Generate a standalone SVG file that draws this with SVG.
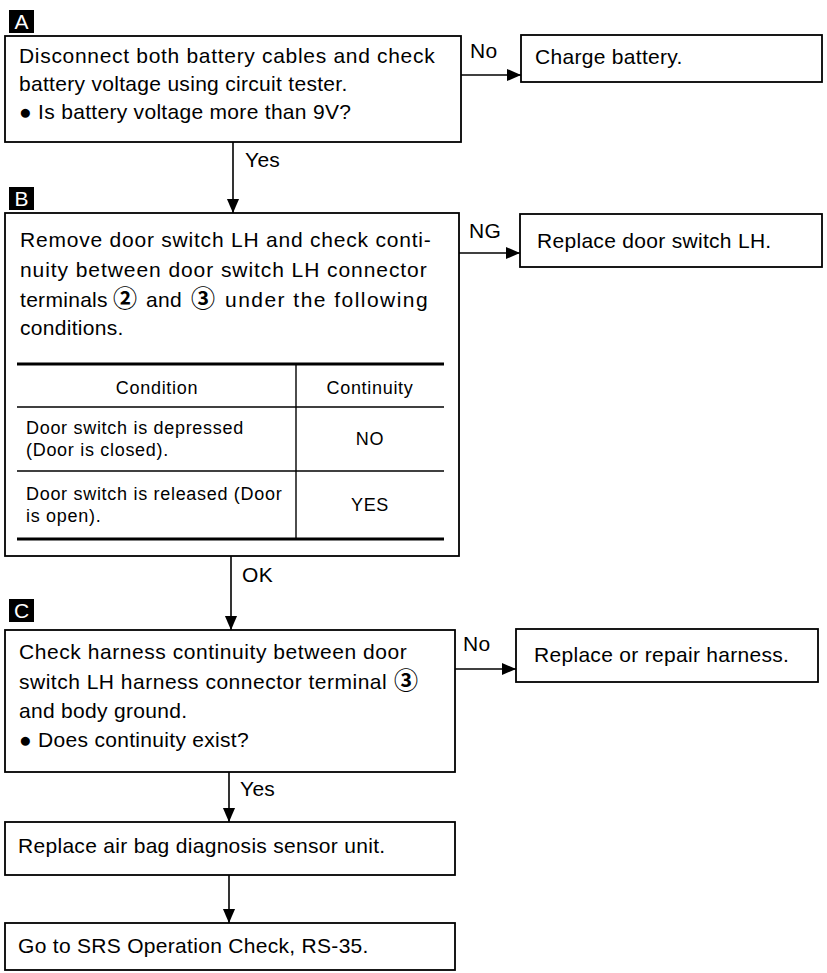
<svg xmlns="http://www.w3.org/2000/svg" width="827" height="973" viewBox="0 0 827 973">
<defs>
<marker id="arr" markerUnits="userSpaceOnUse" markerWidth="14" markerHeight="16" refX="15" refY="6.5" orient="auto" viewBox="0 0 15 13">
<path d="M0,0 L15,6.5 L0,13 Z" fill="#000"/>
</marker>
</defs>
<style>
.box{fill:#fff;stroke:#000;stroke-width:1.8}
.t{font-family:"Liberation Sans",Arial,sans-serif;font-size:21px;letter-spacing:0.3px;fill:#000}
.s{font-family:"Liberation Sans",Arial,sans-serif;font-size:18px;letter-spacing:0.7px;fill:#000}
.c{text-anchor:middle}
.lab{fill:#000}
.labt{font-family:"Liberation Sans",Arial,sans-serif;font-size:21px;fill:#fff;text-anchor:middle}
.cn{font-family:"Noto Sans CJK JP",sans-serif;font-weight:bold;font-size:24px;letter-spacing:0}
.conn{stroke:#000;stroke-width:1.6;fill:none}
.thick{stroke:#000;stroke-width:3.2}
.thin{stroke:#000;stroke-width:1.4}
</style>
<rect width="827" height="973" fill="#fff"/>

<g id="labels">
<rect class="lab" x="9" y="10" width="25" height="23"/>
<text class="labt" x="21.5" y="29">A</text>
<rect class="lab" x="9" y="187" width="25" height="23"/>
<text class="labt" x="21.5" y="206">B</text>
<rect class="lab" x="9" y="599" width="25" height="23"/>
<text class="labt" x="21.5" y="618">C</text>
</g>

<g id="connectors">
<line class="conn" x1="461" y1="75" x2="521" y2="75" marker-end="url(#arr)"/>
<line class="conn" x1="233" y1="142" x2="233" y2="213" marker-end="url(#arr)"/>
<line class="conn" x1="459" y1="253" x2="520" y2="253" marker-end="url(#arr)"/>
<line class="conn" x1="231" y1="556" x2="231" y2="630" marker-end="url(#arr)"/>
<line class="conn" x1="455" y1="669" x2="516" y2="669" marker-end="url(#arr)"/>
<line class="conn" x1="229" y1="772" x2="229" y2="822" marker-end="url(#arr)"/>
<line class="conn" x1="229" y1="875" x2="229" y2="923" marker-end="url(#arr)"/>
<text class="t" x="470" y="58">No</text>
<text class="t" x="245" y="167">Yes</text>
<text class="t" x="469" y="238">NG</text>
<text class="t" x="242" y="582">OK</text>
<text class="t" x="463" y="651">No</text>
<text class="t" x="240" y="796">Yes</text>
</g>

<g id="nodeA">
<rect class="box" x="5" y="36" width="456" height="106"/>
<text class="t" x="19" y="63" textLength="416" lengthAdjust="spacing">Disconnect both battery cables and check</text>
<text class="t" x="19" y="91">battery voltage using circuit tester.</text>
<text class="t" x="19" y="119">● Is battery voltage more than 9V?</text>
</g>

<g id="nodeCharge">
<rect class="box" x="521" y="35" width="301" height="47"/>
<text class="t" x="535" y="64">Charge battery.</text>
</g>

<g id="nodeB">
<rect class="box" x="5" y="213" width="454" height="343"/>
<text class="t" x="20" y="247" textLength="411" lengthAdjust="spacing">Remove door switch LH and check conti-</text>
<text class="t" x="20" y="277" textLength="407" lengthAdjust="spacing">nuity between door switch LH connector</text>
<text class="t" y="307"><tspan x="20">terminals</tspan> <tspan class="cn" x="113">②</tspan> <tspan x="146">and</tspan> <tspan class="cn" x="191">③</tspan> <tspan x="225" textLength="203" lengthAdjust="spacing">under the following</tspan></text>
<text class="t" x="20" y="335">conditions.</text>
<line class="thick" x1="17" y1="364" x2="444" y2="364"/>
<line class="thin" x1="17" y1="407" x2="444" y2="407"/>
<line class="thin" x1="17" y1="471" x2="444" y2="471"/>
<line class="thick" x1="17" y1="539" x2="444" y2="539"/>
<line class="thin" x1="296" y1="364" x2="296" y2="539"/>
<text class="s c" x="157" y="394">Condition</text>
<text class="s c" x="370" y="394">Continuity</text>
<text class="s" x="26" y="434">Door switch is depressed</text>
<text class="s" x="26" y="456">(Door is closed).</text>
<text class="s c" x="370" y="445">NO</text>
<text class="s" x="26" y="500">Door switch is released (Door</text>
<text class="s" x="26" y="522">is open).</text>
<text class="s c" x="370" y="511">YES</text>
</g>

<g id="nodeNG">
<rect class="box" x="520" y="214" width="302" height="53"/>
<text class="t" x="537" y="248">Replace door switch LH.</text>
</g>

<g id="nodeC">
<rect class="box" x="5" y="630" width="450" height="142"/>
<text class="t" x="19" y="659" textLength="388" lengthAdjust="spacing">Check harness continuity between door</text>
<text class="t" y="689"><tspan x="19" textLength="368" lengthAdjust="spacing">switch LH harness connector terminal</tspan> <tspan class="cn" x="394">③</tspan></text>
<text class="t" x="19" y="718">and body ground.</text>
<text class="t" x="19" y="747">● Does continuity exist?</text>
</g>

<g id="nodeHarness">
<rect class="box" x="516" y="629" width="302" height="53"/>
<text class="t" x="534" y="662">Replace or repair harness.</text>
</g>

<g id="nodeReplace">
<rect class="box" x="5" y="822" width="450" height="53"/>
<text class="t" x="18" y="853">Replace air bag diagnosis sensor unit.</text>
</g>

<g id="nodeGo">
<rect class="box" x="5" y="923" width="450" height="47"/>
<text class="t" x="18" y="953">Go to SRS Operation Check, RS-35.</text>
</g>
</svg>
